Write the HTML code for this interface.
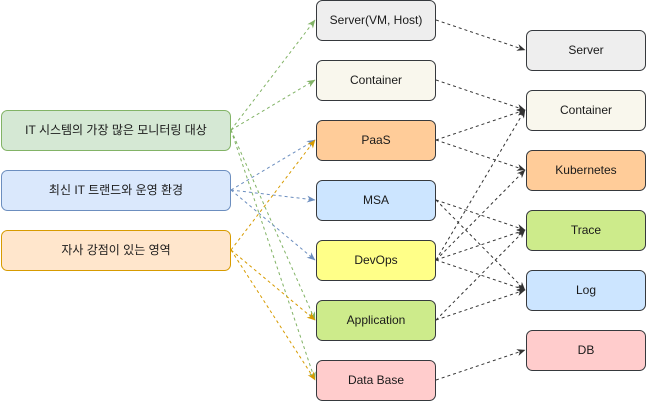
<!DOCTYPE html>
<html><head><meta charset="utf-8"><style>
html,body{margin:0;padding:0;background:#fff;width:646px;height:401px;overflow:hidden}
svg text{font-family:"Liberation Sans","Noto Sans CJK KR",sans-serif;font-size:12px;fill:#1a1a1a;text-anchor:middle;dominant-baseline:central}
</style></head><body>
<svg width="646" height="401" xmlns="http://www.w3.org/2000/svg">
<defs>
<marker id="ag" markerWidth="9" markerHeight="8" refX="8" refY="4" orient="auto" markerUnits="userSpaceOnUse"><path d="M0,0.5 L8.5,4 L0,7.5 L2.5,4 z" fill="#82b366"/></marker>
<marker id="ab" markerWidth="9" markerHeight="8" refX="8" refY="4" orient="auto" markerUnits="userSpaceOnUse"><path d="M0,0.5 L8.5,4 L0,7.5 L2.5,4 z" fill="#6c8ebf"/></marker>
<marker id="ao" markerWidth="9" markerHeight="8" refX="8" refY="4" orient="auto" markerUnits="userSpaceOnUse"><path d="M0,0.5 L8.5,4 L0,7.5 L2.5,4 z" fill="#d79b00"/></marker>
<marker id="ak" markerWidth="9" markerHeight="8" refX="8" refY="4" orient="auto" markerUnits="userSpaceOnUse"><path d="M0,0.5 L8.5,4 L0,7.5 L2.5,4 z" fill="#333"/></marker>
</defs>
<g fill="none" stroke-dasharray="3,3" stroke-width="1">
<g stroke="#82b366" marker-end="url(#ag)">
<line x1="231" y1="130" x2="315" y2="20"/><line x1="231" y1="130" x2="315" y2="80"/>
<line x1="231" y1="130" x2="315" y2="320"/><line x1="231" y1="130" x2="315" y2="380"/>
</g>
<g stroke="#6c8ebf" marker-end="url(#ab)">
<line x1="231" y1="190" x2="315" y2="140"/><line x1="231" y1="190" x2="315" y2="200"/><line x1="231" y1="190" x2="315" y2="260"/>
</g>
<g stroke="#d79b00" marker-end="url(#ao)">
<line x1="231" y1="250" x2="315" y2="140"/><line x1="231" y1="250" x2="315" y2="320"/><line x1="231" y1="250" x2="315" y2="380"/>
</g>
<g stroke="#333" marker-end="url(#ak)">
<line x1="436" y1="20" x2="525" y2="50"/>
<line x1="436" y1="80" x2="525" y2="110"/>
<line x1="436" y1="140" x2="525" y2="110"/><line x1="436" y1="140" x2="525" y2="170"/>
<line x1="436" y1="200" x2="525" y2="230"/><line x1="436" y1="200" x2="525" y2="290"/>
<line x1="436" y1="260" x2="525" y2="110"/><line x1="436" y1="260" x2="525" y2="170"/>
<line x1="436" y1="260" x2="525" y2="230"/><line x1="436" y1="260" x2="525" y2="290"/>
<line x1="436" y1="320" x2="525" y2="230"/><line x1="436" y1="320" x2="525" y2="290"/>
<line x1="436" y1="380" x2="525" y2="350"/>
</g>
</g>
<g stroke-width="1">
<rect x="1.5" y="110.5" width="229" height="40" rx="6" fill="#d5e8d4" stroke="#82b366"/>
<rect x="1.5" y="170.5" width="229" height="40" rx="6" fill="#dae8fc" stroke="#6c8ebf"/>
<rect x="1.5" y="230.5" width="229" height="40" rx="6" fill="#ffe6cc" stroke="#d79b00"/>
<g stroke="#36393d">
<rect x="316.5" y="0.5" width="119" height="40" rx="6" fill="#eeeeee"/>
<rect x="316.5" y="60.5" width="119" height="40" rx="6" fill="#f9f7ed"/>
<rect x="316.5" y="120.5" width="119" height="40" rx="6" fill="#ffcc99"/>
<rect x="316.5" y="180.5" width="119" height="40" rx="6" fill="#cce5ff"/>
<rect x="316.5" y="240.5" width="119" height="40" rx="6" fill="#ffff88"/>
<rect x="316.5" y="300.5" width="119" height="40" rx="6" fill="#cdeb8b"/>
<rect x="316.5" y="360.5" width="119" height="40" rx="6" fill="#ffcccc"/>
<rect x="526.5" y="30.5" width="119" height="40" rx="6" fill="#eeeeee"/>
<rect x="526.5" y="90.5" width="119" height="40" rx="6" fill="#f9f7ed"/>
<rect x="526.5" y="150.5" width="119" height="40" rx="6" fill="#ffcc99"/>
<rect x="526.5" y="210.5" width="119" height="40" rx="6" fill="#cdeb8b"/>
<rect x="526.5" y="270.5" width="119" height="40" rx="6" fill="#cce5ff"/>
<rect x="526.5" y="330.5" width="119" height="40" rx="6" fill="#ffcccc"/>
</g>
</g>
<text x="116" y="130">IT 시스템의 가장 많은 모니터링 대상</text>
<text x="116" y="190">최신 IT 트랜드와 운영 환경</text>
<text x="116" y="250">자사 강점이 있는 영역</text>
<text x="376" y="20">Server(VM, Host)</text>
<text x="376" y="80">Container</text>
<text x="376" y="140">PaaS</text>
<text x="376" y="200">MSA</text>
<text x="376" y="260">DevOps</text>
<text x="376" y="320">Application</text>
<text x="376" y="380">Data Base</text>
<text x="586" y="50">Server</text>
<text x="586" y="110">Container</text>
<text x="586" y="170">Kubernetes</text>
<text x="586" y="230">Trace</text>
<text x="586" y="290">Log</text>
<text x="586" y="350">DB</text>
</svg>
</body></html>
